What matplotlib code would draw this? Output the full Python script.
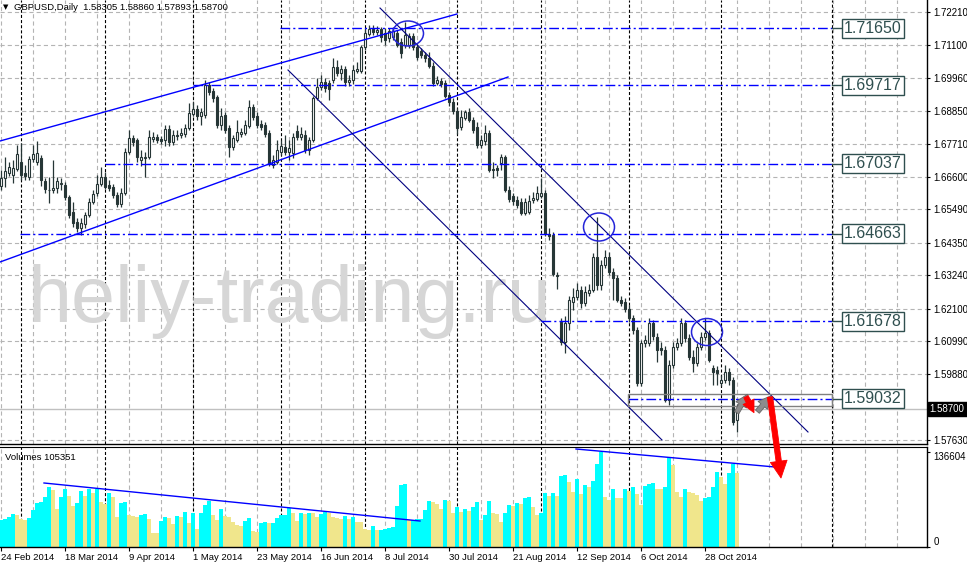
import matplotlib
matplotlib.use("Agg")
import matplotlib.pyplot as plt
from matplotlib.patches import Ellipse, Rectangle
import matplotlib.transforms as mtransforms
import numpy as np
import pandas as pd

plt.rcParams['font.family'] = ['Liberation Sans', 'DejaVu Sans']
plt.rcParams['lines.scale_dashes'] = False

symbol = "GBPUSD,Daily"
first_day = "2014-02-24"

opens = [
    1.6628, 1.6656, 1.6673, 1.6666, 1.6686, 1.6710, 1.6673, 1.6659, 1.6720, 1.6710,
    1.6724, 1.6645, 1.6615, 1.6615, 1.6621, 1.6635, 1.6632, 1.6591, 1.6540, 1.6506,
    1.6485, 1.6499, 1.6529, 1.6574, 1.6604, 1.6635, 1.6659, 1.6632, 1.6625, 1.6598,
    1.6567, 1.6604, 1.6744, 1.6792, 1.6785, 1.6717, 1.6724, 1.6727, 1.6788, 1.6795,
    1.6788, 1.6785, 1.6822, 1.6778, 1.6799, 1.6802, 1.6805, 1.6826, 1.6874, 1.6891,
    1.6867, 1.6870, 1.6972, 1.6952, 1.6932, 1.6836, 1.6870, 1.6826, 1.6761, 1.6785,
    1.6805, 1.6809, 1.6833, 1.6897, 1.6867, 1.6840, 1.6836, 1.6809, 1.6700, 1.6710,
    1.6744, 1.6761, 1.6744, 1.6741, 1.6816, 1.6795, 1.6802, 1.6751, 1.6785, 1.6928,
    1.6966, 1.6983, 1.6979, 1.6989, 1.7034, 1.7013, 1.7027, 1.6983, 1.6989, 1.7020,
    1.7020, 1.7102, 1.7146, 1.7163, 1.7153, 1.7163, 1.7150, 1.7133, 1.7136, 1.7150,
    1.7119, 1.7109, 1.7109, 1.7139, 1.7102, 1.7088, 1.7075, 1.7064, 1.7037, 1.6979,
    1.6986, 1.6979, 1.6938, 1.6914, 1.6884, 1.6829, 1.6860, 1.6880, 1.6853, 1.6829,
    1.6768, 1.6782, 1.6809, 1.6686, 1.6690, 1.6707, 1.6727, 1.6615, 1.6594, 1.6581,
    1.6574, 1.6536, 1.6540, 1.6581, 1.6584, 1.6594, 1.6604, 1.6465, 1.6461, 1.6325,
    1.6165, 1.6097, 1.6162, 1.6233, 1.6250, 1.6274, 1.6230, 1.6264, 1.6274, 1.6386,
    1.6291, 1.6359, 1.6386, 1.6335, 1.6315, 1.6240, 1.6233, 1.6209, 1.6179, 1.6138,
    1.5957, 1.6093, 1.6093, 1.6162, 1.6114, 1.6076, 1.6070, 1.5899, 1.6018, 1.6080,
    1.6093, 1.6162, 1.6110, 1.6046, 1.6025, 1.6080, 1.6114, 1.6127, 1.6008, 1.6001,
    1.5957, 1.5967, 1.5995, 1.5967, 1.58305,
]
highs = [
    1.6683, 1.6727, 1.6710, 1.6717, 1.6768, 1.6775, 1.6700, 1.6731, 1.6768, 1.6782,
    1.6734, 1.6656, 1.6659, 1.6717, 1.6659, 1.6656, 1.6642, 1.6598, 1.6574, 1.6519,
    1.6519, 1.6540, 1.6587, 1.6615, 1.6666, 1.6693, 1.6676, 1.6649, 1.6635, 1.6608,
    1.6621, 1.6758, 1.6819, 1.6802, 1.6792, 1.6751, 1.6744, 1.6819, 1.6812, 1.6805,
    1.6799, 1.6836, 1.6836, 1.6819, 1.6819, 1.6826, 1.6840, 1.6911, 1.6914, 1.6904,
    1.6894, 1.6989, 1.6983, 1.6962, 1.6938, 1.6894, 1.6880, 1.6836, 1.6802, 1.6853,
    1.6826, 1.6853, 1.6921, 1.6908, 1.6880, 1.6853, 1.6846, 1.6819, 1.6734, 1.6785,
    1.6785, 1.6802, 1.6785, 1.6809, 1.6836, 1.6829, 1.6819, 1.6795, 1.6935, 1.6996,
    1.7006, 1.6996, 1.6989, 1.7064, 1.7058, 1.7041, 1.7037, 1.7006, 1.7041, 1.7051,
    1.7109, 1.7167, 1.7177, 1.7177, 1.7173, 1.7170, 1.7167, 1.7167, 1.7170, 1.7160,
    1.7133, 1.7187, 1.7150, 1.7150, 1.7112, 1.7098, 1.7085, 1.7085, 1.7051, 1.7003,
    1.6996, 1.6989, 1.6949, 1.6928, 1.6894, 1.6887, 1.6887, 1.6894, 1.6863, 1.6846,
    1.6802, 1.6836, 1.6819, 1.6710, 1.6700, 1.6737, 1.6734, 1.6628, 1.6604, 1.6594,
    1.6587, 1.6587, 1.6598, 1.6608, 1.6628, 1.6656, 1.6615, 1.6485, 1.6472, 1.6335,
    1.6179, 1.6185, 1.6254, 1.6281, 1.6298, 1.6288, 1.6288, 1.6294, 1.6400, 1.6523,
    1.6376, 1.6410, 1.6403, 1.6349, 1.6325, 1.6254, 1.6247, 1.6223, 1.6189, 1.6148,
    1.6104, 1.6121, 1.6179, 1.6172, 1.6127, 1.6097, 1.6083, 1.6035, 1.6097, 1.6110,
    1.6179, 1.6172, 1.6124, 1.6070, 1.6093, 1.6131, 1.6179, 1.6138, 1.6018, 1.6015,
    1.5984, 1.6018, 1.6008, 1.5978, 1.58860,
]
lows = [
    1.6615, 1.6625, 1.6662, 1.6639, 1.6679, 1.6649, 1.6649, 1.6649, 1.6710, 1.6700,
    1.6628, 1.6604, 1.6570, 1.6604, 1.6604, 1.6615, 1.6581, 1.6519, 1.6489, 1.6472,
    1.6461, 1.6485, 1.6523, 1.6567, 1.6594, 1.6628, 1.6618, 1.6611, 1.6587, 1.6557,
    1.6557, 1.6598, 1.6737, 1.6765, 1.6710, 1.6696, 1.6659, 1.6720, 1.6778, 1.6775,
    1.6771, 1.6765, 1.6765, 1.6768, 1.6785, 1.6792, 1.6795, 1.6819, 1.6867, 1.6853,
    1.6836, 1.6860, 1.6938, 1.6914, 1.6826, 1.6819, 1.6809, 1.6727, 1.6751, 1.6778,
    1.6795, 1.6802, 1.6826, 1.6853, 1.6826, 1.6819, 1.6795, 1.6696, 1.6690, 1.6703,
    1.6734, 1.6734, 1.6717, 1.6724, 1.6785, 1.6785, 1.6741, 1.6734, 1.6778, 1.6921,
    1.6955, 1.6949, 1.6921, 1.6979, 1.7003, 1.6989, 1.6969, 1.6969, 1.6976, 1.7013,
    1.7013, 1.7092, 1.7139, 1.7143, 1.7143, 1.7119, 1.7109, 1.7119, 1.7126, 1.7102,
    1.7064, 1.7098, 1.7098, 1.7092, 1.7058, 1.7064, 1.7051, 1.7030, 1.6969, 1.6972,
    1.6966, 1.6928, 1.6901, 1.6874, 1.6805, 1.6819, 1.6853, 1.6846, 1.6809, 1.6758,
    1.6758, 1.6768, 1.6676, 1.6656, 1.6662, 1.6683, 1.6608, 1.6574, 1.6564, 1.6553,
    1.6529, 1.6529, 1.6533, 1.6570, 1.6577, 1.6587, 1.6458, 1.6444, 1.6322, 1.6277,
    1.6087, 1.6059, 1.6138, 1.6206, 1.6240, 1.6213, 1.6219, 1.6254, 1.6267, 1.6274,
    1.6274, 1.6349, 1.6325, 1.6240, 1.6233, 1.6219, 1.6199, 1.6165, 1.6124, 1.5947,
    1.5947, 1.6080, 1.6083, 1.6104, 1.6029, 1.6053, 1.5892, 1.5882, 1.6008, 1.6070,
    1.6083, 1.6097, 1.6035, 1.5995, 1.6015, 1.6070, 1.6104, 1.6029, 1.5950, 1.5950,
    1.5947, 1.5957, 1.5950, 1.5814, 1.57893,
]
closes = [
    1.6656, 1.6679, 1.6693, 1.6690, 1.6737, 1.6666, 1.6662, 1.6720, 1.6737, 1.6741,
    1.6649, 1.6618, 1.6614, 1.6621, 1.6645, 1.6639, 1.6591, 1.6529, 1.6502, 1.6485,
    1.6502, 1.6529, 1.6574, 1.6601, 1.6635, 1.6659, 1.6625, 1.6621, 1.6598, 1.6567,
    1.6604, 1.6744, 1.6792, 1.6778, 1.6727, 1.6727, 1.6727, 1.6795, 1.6795, 1.6785,
    1.6782, 1.6822, 1.6778, 1.6802, 1.6802, 1.6809, 1.6826, 1.6877, 1.6891, 1.6867,
    1.6880, 1.6972, 1.6949, 1.6928, 1.6836, 1.6867, 1.6819, 1.6761, 1.6792, 1.6812,
    1.6812, 1.6836, 1.6897, 1.6863, 1.6836, 1.6829, 1.6805, 1.6707, 1.6717, 1.6751,
    1.6765, 1.6744, 1.6758, 1.6795, 1.6795, 1.6805, 1.6751, 1.6785, 1.6928, 1.6966,
    1.6983, 1.6962, 1.6959, 1.7034, 1.7013, 1.7027, 1.6983, 1.6989, 1.7024, 1.7027,
    1.7102, 1.7150, 1.7163, 1.7153, 1.7160, 1.7136, 1.7126, 1.7156, 1.7156, 1.7109,
    1.7081, 1.7143, 1.7139, 1.7102, 1.7068, 1.7075, 1.7064, 1.7037, 1.6979, 1.6989,
    1.6976, 1.6935, 1.6914, 1.6884, 1.6826, 1.6863, 1.6880, 1.6853, 1.6819, 1.6768,
    1.6785, 1.6809, 1.6683, 1.6683, 1.6683, 1.6727, 1.6615, 1.6584, 1.6577, 1.6564,
    1.6536, 1.6574, 1.6577, 1.6587, 1.6604, 1.6604, 1.6465, 1.6458, 1.6328, 1.6322,
    1.6097, 1.6162, 1.6240, 1.6250, 1.6274, 1.6230, 1.6267, 1.6274, 1.6386, 1.6291,
    1.6359, 1.6386, 1.6335, 1.6315, 1.6240, 1.6230, 1.6209, 1.6179, 1.6138, 1.5957,
    1.6093, 1.6104, 1.6162, 1.6117, 1.6070, 1.6070, 1.5899, 1.6018, 1.6080, 1.6093,
    1.6162, 1.6110, 1.6046, 1.6025, 1.6080, 1.6114, 1.6127, 1.6035, 1.5995, 1.5991,
    1.5967, 1.5995, 1.5967, 1.5824, 1.58700,
]
volumes = [
    39170, 39650, 42510, 47290, 45380, 39650, 38690, 41560, 53020, 63530,
    64010, 72130, 85500, 81680, 53980, 72130, 82640, 73080, 58750, 63530,
    79770, 73080, 82640, 76910, 83590, 64960, 61620, 77860, 71170, 43470,
    63530, 64010, 45860, 44420, 43470, 45860, 47290, 39650, 20540, 20540,
    37260, 42510, 41900, 32960, 44420, 43470, 50160, 33910, 48240, 25320,
    49200, 60660, 66400, 45860, 38690, 53980, 44420, 43470, 36300, 31530,
    30090, 37730, 41080, 23400, 21970, 34870, 36300, 33910, 34870, 42030,
    45860, 46330, 55410, 48240, 37730, 48240, 47290, 49200, 48240, 42510,
    47290, 50160, 49200, 42510, 41080, 40600, 44420, 39650, 42510, 35830,
    35350, 25320, 24830, 30090, 24360, 24830, 25790, 27230, 28190, 58750,
    89320, 90280, 38690, 39170, 40120, 40600, 53020, 65920, 64960, 61620,
    53980, 67350, 65920, 48240, 57790, 50630, 54450, 51590, 57790, 64960,
    38690, 45860, 65920, 48240, 47290, 35830, 49200, 60190, 58750, 63530,
    61620, 70220, 71170, 57790, 45860, 49200, 77860, 73080, 77860, 73080,
    101740, 103650, 93150, 79290, 97440, 75950, 88850, 85500, 95050, 118470,
    136604, 71170, 67350, 82640, 69740, 69740, 82640, 80720, 85500, 75950,
    60190, 87410, 89810, 91240, 82640, 82640, 85500, 128010, 117510, 79290,
    71170, 82640, 78820, 76910, 74520, 66390, 69740, 71170, 85500, 107480,
    99840, 90280, 106040, 118940, 105351,
]

price_ticks = [1.72210, 1.71100, 1.69960, 1.68850, 1.67710, 1.66600, 1.65490,
               1.64350, 1.63240, 1.62100, 1.60990, 1.59880, 1.57630]
levels = [1.71650, 1.69717, 1.67037, 1.64663, 1.61678, 1.59032]
level_from = [69.75, 48, 26, 4.75, 135, 156.75]
levels_end = 207.75
watermark = "heliy-trading.ru"

CANDLE = '#263636'
GRID = '#b4b4b4'
BLUE = '#0000ff'

W, H = 967, 566
fig = plt.figure(figsize=(W / 100, H / 100), dpi=100)
ax_p = fig.add_axes([0, 1 - 444 / H, 927 / W, 444 / H], zorder=2)
ax_v = fig.add_axes([0, 1 - 547 / H, 927 / W, 100 / H], zorder=1)

o = np.array(opens); h = np.array(highs); l = np.array(lows); c = np.array(closes)
v = np.array(volumes)
x = np.arange(len(c))
dates = pd.bdate_range(first_day, periods=len(c))
xmin, xmax = -0.25, 231.5

for ax in (ax_p, ax_v):
    ax.set_xlim(xmin, xmax)
    for s in ('left', 'top'):
        ax.spines[s].set_visible(False)
    for s in ('right', 'bottom'):
        ax.spines[s].set_linewidth(1)
    # vertical grid and month separators
    for gx in range(0, 232, 8):
        ax.axvline(gx, color=GRID, lw=0.8, dashes=(3, 2.2), zorder=0.5)
    months = [i for i in range(1, len(dates)) if dates[i].month != dates[i - 1].month]
    for mx in months + [levels_end]:
        ax.axvline(mx, color='black', lw=0.8, dashes=(2.2, 1.5), zorder=0.6)
ax_v.spines['top'].set_visible(True)

# ---- price panel ----
ax_p.set_ylim(1.57494, 1.72619)
for t in price_ticks:
    ax_p.axhline(t, color=GRID, lw=0.8, dashes=(3, 2.2), zorder=0.5)
ax_p.yaxis.tick_right()
ax_p.set_yticks(price_ticks)
ax_p.set_yticklabels([f"{t:.5f}" for t in price_ticks])
ax_p.tick_params(axis='y', direction='out', length=2.5, width=0.8, labelsize=7, pad=2)
ax_p.set_xticks([])

ax_p.text(289 / 927, 1 - 322 / 444, watermark, transform=ax_p.transAxes,
          ha='center', va='baseline', fontsize=57, color='#d6d6d6', zorder=1.5)

# bid line
ax_p.axhline(c[-1], color='#c0c0c0', lw=1, zorder=0.7)

up = c >= o
ax_p.vlines(x, l, h, color=CANDLE, lw=0.9, zorder=3)
ax_p.bar(x[up], c[up] - o[up], bottom=o[up], width=0.62, color='white',
         edgecolor=CANDLE, linewidth=0.8, zorder=4)
ax_p.bar(x[~up], o[~up] - c[~up], bottom=c[~up], width=0.62, color=CANDLE,
         edgecolor=CANDLE, linewidth=0.8, zorder=4)

# channels
ax_p.plot([-0.25, 114], [1.67816, 1.72142], color=BLUE, lw=1, zorder=5)
ax_p.plot([-0.25, 126.75], [1.63694, 1.69996], color=BLUE, lw=1, zorder=5)
ax_p.plot([94.75, 201.75], [1.72346, 1.57903], color='#000080', lw=0.8, zorder=5)
ax_p.plot([71.75, 165.25], [1.70234, 1.57630], color='#000080', lw=0.8, zorder=5)

# levels with labels
for lv, start in zip(levels, level_from):
    ax_p.plot([start, levels_end], [lv, lv], color=BLUE, lw=1,
              dashes=(7, 2.2, 1.5, 2.2), zorder=5)
    ax_p.plot([levels_end, 210.6], [lv, lv], color='#2f4f4f', lw=1, zorder=5,
              clip_on=False)
    ax_p.text(218, lv, f"{lv:.5f}", ha='center', va='center', fontsize=11.5,
              color='#2f4f4f', zorder=6,
              bbox=dict(boxstyle='square,pad=0.12', fc='white', ec='#2f4f4f', lw=1))
ax_p.add_patch(Rectangle((156.75, 1.58788), levels_end - 156.75, 1.59197 - 1.58788,
                         fill=False, ec='#808080', lw=1, zorder=5))

# circles
for cx, cy, eh in [(101.75, 1.71478, 0.00852), (149.5, 1.64886, 0.00954),
                   (176.5, 1.61309, 0.0092)]:
    ax_p.add_patch(Ellipse((cx, cy), 7.75, eh, fill=False, ec='#2424d8', lw=1.1, zorder=6))

# arrows
def arrow(start, end, color, edge, scale, tail):
    ax_p.annotate("", xy=end, xytext=start, annotation_clip=False,
                  arrowprops=dict(arrowstyle=f"simple,head_length=1.1,head_width=1.1,tail_width={tail}",
                                  fc=color, ec=edge, lw=0.6, mutation_scale=scale,
                                  shrinkA=0, shrinkB=0, clip_on=False), zorder=7)

arrow((183.9, 1.58560), (186.6, 1.59187), '#8c8c8c', '#666666', 8, 0.45)
arrow((186.25, 1.59105), (188.25, 1.58560), '#ff0000', '#ff0000', 8, 0.45)
arrow((189.1, 1.58595), (192.4, 1.59130), '#8c8c8c', '#666666', 8, 0.45)
arrow((192.25, 1.59095), (195.0, 1.56336), '#ff0000', '#ff0000', 11, 0.35)

# current price label
trans = mtransforms.blended_transform_factory(ax_p.transAxes, ax_p.transData)
ax_p.text(1.003, c[-1], f"{c[-1]:.5f}", transform=trans, ha='left', va='center',
          fontsize=7, color='white', zorder=8,
          bbox=dict(boxstyle='square,pad=0.2', fc='black', ec='black'))

fig.text(3 / W, 1 - 7 / H, "\u25bc", fontsize=5, va='center', family='DejaVu Sans')
fig.text(14 / W, 1 - 7 / H,
         f"{symbol}  {o[-1]:.5f} {h[-1]:.5f} {l[-1]:.5f} {c[-1]:.5f}",
         fontsize=6.8, va='center')

# ---- volume panel ----
ax_v.set_ylim(0, 143300)
rising = np.r_[True, v[1:] > v[:-1]]
ax_v.bar(x, v, width=0.8, color=np.where(rising, '#00ffff', '#f0e68c'), zorder=2)
ax_v.plot([10.75, 104.75], [91712, 37258], color=BLUE, lw=1, zorder=3)
ax_v.plot([143.75, 193.5], [140434, 114640], color=BLUE, lw=1, zorder=3)
ax_v.text(5 / 927, 0.9, f"Volumes {v[-1]}", transform=ax_v.transAxes,
          fontsize=6.8, va='center')

ax_v.yaxis.tick_right()
ax_v.set_yticks([0, v.max()])
ax_v.set_yticklabels(["0", f"{v.max()}"])
ylabels = ax_v.get_yticklabels()
ylabels[0].set_va('bottom')
ylabels[1].set_va('top')
ax_v.tick_params(axis='y', direction='out', length=2.5, width=0.8, labelsize=7, pad=2)

label_idx = list(range(0, len(c), 16))
ax_v.set_xticks(label_idx)
ax_v.set_xticklabels([f"{dates[i].day} {dates[i]:%b %Y}" for i in label_idx])
for lab in ax_v.get_xticklabels():
    lab.set_ha('left')
ax_v.tick_params(axis='x', direction='out', length=3, width=0.8, labelsize=6.8, pad=1.5)

fig.savefig("out.png", dpi=100)
